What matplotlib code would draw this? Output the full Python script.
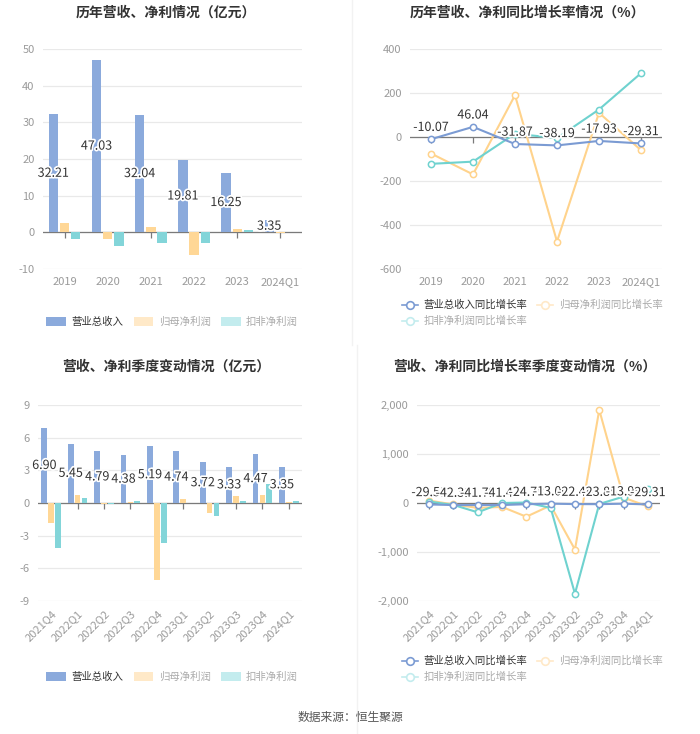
import matplotlib
matplotlib.use("Agg")
import matplotlib.pyplot as plt
import matplotlib.patheffects as pe
from matplotlib.lines import Line2D
from matplotlib.patches import Patch
import numpy as np

plt.rcParams['font.family'] = ['Noto Sans CJK SC', 'DejaVu Sans']

# ---------------- data ----------------
years = ['2019', '2020', '2021', '2022', '2023', '2024Q1']
rev_y = [32.21, 47.03, 32.04, 19.81, 16.25, 3.35]
np_y = [2.5, -1.8, 1.55, -6.3, 0.8, -0.1]
dnp_y = [-1.7, -3.6, -2.8, -3.0, 0.6, 0.1]

rev_g_y = [-10.07, 46.04, -31.87, -38.19, -17.93, -29.31]
np_g_y = [-75, -170, 190, -475, 110, -60]
dnp_g_y = [-122, -112, 15, -5, 125, 290]

quarters = ['2021Q4', '2022Q1', '2022Q2', '2022Q3', '2022Q4',
            '2023Q1', '2023Q2', '2023Q3', '2023Q4', '2024Q1']
rev_q = [6.90, 5.45, 4.79, 4.38, 5.19, 4.74, 3.72, 3.33, 4.47, 3.35]
np_q = [-1.8, 0.75, -0.05, 0.05, -7.1, 0.4, -0.9, 0.6, 0.75, 0.1]
dnp_q = [-4.1, 0.5, -0.05, 0.2, -3.7, 0.02, -1.2, 0.15, 1.7, 0.2]

rev_g_q = [-29.51, -42.31, -41.79, -41.42, -24.78, -13.00, -22.44, -23.85, -13.95, -29.31]
np_g_q = [50, -30, -100, -80, -280, -50, -950, 1900, 110, -70]
dnp_g_q = [30, -40, -190, 0, 10, -100, -1850, -20, 130, 290]

bar_names = ['营业总收入', '归母净利润', '扣非净利润']
line_names = ['营业总收入同比增长率', '归母净利润同比增长率', '扣非净利润同比增长率']

titles = ['历年营收、净利情况（亿元）', '历年营收、净利同比增长率情况（%）',
          '营收、净利季度变动情况（亿元）', '营收、净利同比增长率季度变动情况（%）']

# ---------------- style ----------------
C_BLUE = '#8BAADC'
C_ORANGE = '#FFD796'
C_CYAN = '#83D5D9'
L_BLUE = '#7B9BD3'
L_ORANGE = '#FFD38C'
L_CYAN = '#6FD2CF'
F_ORANGE = '#FFE9C8'
F_CYAN = '#C3ECEE'
GRID = '#E9E9E9'
TICK = '#9A9A9A'
AXIS = '#7A7A7A'

W, H = 700, 734
fig = plt.figure(figsize=(W / 100, H / 100), dpi=100)


def ax_at(x0, y0, x1, y1):
    return fig.add_axes([x0 / W, 1 - y1 / H, (x1 - x0) / W, (y1 - y0) / H])


def style(ax, ylim, yticks, ylabels):
    ax.set_ylim(*ylim)
    ax.set_yticks(yticks)
    ax.set_yticklabels(ylabels)
    for s in ax.spines.values():
        s.set_visible(False)
    ax.grid(axis='y', color=GRID, lw=0.9)
    ax.set_axisbelow(True)
    ax.tick_params(axis='both', length=0, colors=TICK, labelsize=8)
    ax.tick_params(axis='y', pad=6)


def zero_axis(ax, n):
    ax.axhline(0, color=AXIS, lw=0.9, zorder=2)
    ax.plot(np.arange(n), np.zeros(n), ls='none', marker=3, markersize=4,
            color=AXIS, mew=0.9, zorder=2)


stroke = [pe.withStroke(linewidth=2.5, foreground='white')]


def bars(ax, cats, a, b, c, bw):
    x = np.arange(len(cats))
    off = bw + 0.045
    ax.bar(x - off, a, bw, color=C_BLUE, zorder=3)
    ax.bar(x, b, bw, color=C_ORANGE, zorder=3)
    ax.bar(x + off, c, bw, color=C_CYAN, zorder=3)
    for xi, v in zip(x, a):
        ax.text(xi - off, v / 2, f'{v:.2f}', ha='center', va='center',
                fontsize=9, color='#333333', path_effects=stroke, zorder=5)
    ax.set_xlim(-0.5, len(cats) - 0.5)
    ax.set_xticks(x)
    zero_axis(ax, len(cats))


def lines(ax, cats, a, b, c):
    x = np.arange(len(cats))
    kw = dict(lw=1.5, marker='o', markersize=4.5, mfc='white', mew=1.1)
    ax.plot(x, a, color=L_BLUE, zorder=4, **kw)
    ax.plot(x, b, color=L_ORANGE, zorder=3, **kw)
    ax.plot(x, c, color=L_CYAN, zorder=3, **kw)
    for xi, v in zip(x, a):
        ax.annotate(f'{v:.2f}', (xi, v), xytext=(0, 8.5), textcoords='offset points',
                    ha='center', va='center', fontsize=9, color='#333333',
                    path_effects=stroke, zorder=6)
    ax.set_xlim(-0.5, len(cats) - 0.5)
    ax.set_xticks(x)
    zero_axis(ax, len(cats))


# ---------- top-left ----------
ax1 = ax_at(43, 49, 302, 269)
style(ax1, (-10, 50), [-10, 0, 10, 20, 30, 40, 50],
      ['-10', '0', '10', '20', '30', '40', '50'])
bars(ax1, years, rev_y, np_y, dnp_y, 0.215)
ax1.set_xticklabels(years)
ax1.tick_params(axis='x', pad=6)

# ---------- top-right ----------
ax2 = ax_at(410, 49, 662, 269)
style(ax2, (-600, 400), [-600, -400, -200, 0, 200, 400],
      ['-600', '-400', '-200', '0', '200', '400'])
lines(ax2, years, rev_g_y, np_g_y, dnp_g_y)
ax2.set_xticklabels(years)
ax2.tick_params(axis='x', pad=6)

# ---------- bottom-left ----------
ax3 = ax_at(38, 405, 302, 601)
style(ax3, (-9, 9), [-9, -6, -3, 0, 3, 6, 9],
      ['-9', '-6', '-3', '0', '3', '6', '9'])
bars(ax3, quarters, rev_q, np_q, dnp_q, 0.215)
ax3.set_xticklabels(quarters, rotation=45, ha='right', rotation_mode='anchor')
ax3.tick_params(axis='x', pad=5)

# ---------- bottom-right ----------
ax4 = ax_at(417, 405, 660, 601)
style(ax4, (-2000, 2000), [-2000, -1000, 0, 1000, 2000],
      ['-2,000', '-1,000', '0', '1,000', '2,000'])
lines(ax4, quarters, rev_g_q, np_g_q, dnp_g_q)
ax4.set_xticklabels(quarters, rotation=45, ha='right', rotation_mode='anchor')
ax4.tick_params(axis='x', pad=5)

# ---------- titles ----------
for (cx, cy), t in zip([(166, 13), (527, 13), (166, 367), (525, 367)], titles):
    fig.text(cx / W, 1 - cy / H, t, ha='center', va='center', fontsize=10,
             fontweight='bold', color='#333333')

# ---------- legends ----------
def bar_legend(cy):
    hs = [Patch(facecolor=C_BLUE, edgecolor='none'),
          Patch(facecolor=F_ORANGE, edgecolor='none'),
          Patch(facecolor=F_CYAN, edgecolor='none')]
    leg = fig.legend(hs, bar_names, loc='center', bbox_to_anchor=(172 / W, 1 - cy / H),
                     ncol=3, frameon=False, fontsize=7.5, handlelength=1.9,
                     handleheight=1.0, columnspacing=1.0, handletextpad=0.5)
    cols = ['#333333', '#AAAAAA', '#AAAAAA']
    for t, c in zip(leg.get_texts(), cols):
        t.set_color(c)


def line_legend(cy):
    kw = dict(lw=1.2, marker='o', markersize=5.5, mfc='white', mew=1.2)
    hA = Line2D([], [], color=L_BLUE, **kw)
    hB = Line2D([], [], color=F_ORANGE, **kw)
    hC = Line2D([], [], color=F_CYAN, **kw)
    leg = fig.legend([hA, hC, hB], [line_names[0], line_names[2], line_names[1]],
                     loc='center', bbox_to_anchor=(532 / W, 1 - cy / H), ncol=2,
                     frameon=False, fontsize=7.5, handlelength=1.6,
                     columnspacing=0.9, handletextpad=0.5, labelspacing=0.55)
    cols = ['#333333', '#AAAAAA', '#AAAAAA']
    for t, c in zip(leg.get_texts(), cols):
        t.set_color(c)


bar_legend(322)
line_legend(313)
bar_legend(677)
line_legend(669)

# ---------- dividers ----------
fig.add_artist(Line2D([352 / W, 352 / W], [1 - 345 / H, 1], color='#F2F2F2', lw=1))
fig.add_artist(Line2D([357 / W, 357 / W], [0.0, 1 - 345 / H], color='#F2F2F2', lw=1))

fig.text(350 / W, 1 - 717 / H, '数据来源：恒生聚源', ha='center', va='center',
         fontsize=8.5, color='#555555')

fig.savefig('out.png', dpi=100, facecolor='white')
